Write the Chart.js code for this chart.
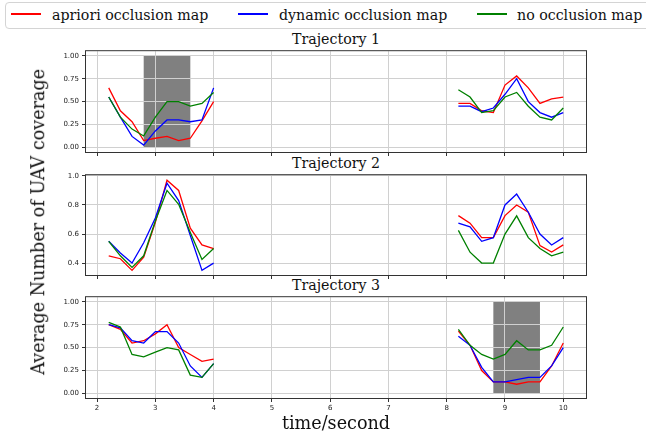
<!DOCTYPE html>
<html><head><meta charset="utf-8">
<script src="https://cdn.jsdelivr.net/npm/chart.js@4.4.0/dist/chart.umd.min.js"></script>
<style>
html,body{margin:0;padding:0;background:#fff;width:646px;height:439px;overflow:hidden;position:relative;}
canvas{position:absolute;left:0;}
.t{position:absolute;font-family:"DejaVu Serif";white-space:nowrap;line-height:1;color:#111;}
.lg{position:absolute;height:2px;}
</style></head><body>
<div style="position:absolute;left:5px;top:2px;width:700px;height:25px;border:1px solid #d4d4d4;border-radius:4px;"></div>
<div class="lg" style="left:11px;top:13px;width:30px;background:#ff0000"></div>
<div class="t" style="left:52px;top:8px;font-size:14.2px;">apriori occlusion map</div>
<div class="lg" style="left:238px;top:13px;width:30px;background:#0000ff"></div>
<div class="t" style="left:279px;top:8px;font-size:14.2px;">dynamic occlusion map</div>
<div class="lg" style="left:477px;top:13px;width:30px;background:#008000"></div>
<div class="t" style="left:517px;top:8px;font-size:14.2px;">no occlusion map</div>

<div class="t" style="left:86px;width:500px;text-align:center;top:32px;font-size:14.2px;">Trajectory 1</div>
<div class="t" style="left:86px;width:500px;text-align:center;top:155.5px;font-size:14.2px;">Trajectory 2</div>
<div class="t" style="left:86px;width:500px;text-align:center;top:278px;font-size:14.2px;">Trajectory 3</div>

<canvas id="c1" width="646" height="120" style="top:44px"></canvas>
<canvas id="c2" width="646" height="119" style="top:168px"></canvas>
<canvas id="c3" width="646" height="128" style="top:290px"></canvas>

<div class="t" style="left:86px;width:500px;text-align:center;top:415px;font-size:17.6px;">time/second</div>
<div class="t" style="left:-161px;top:213px;width:400px;text-align:center;font-size:17.6px;transform:rotate(-90deg);">Average Number of UAV coverage</div>

<script>
const xLeft  = [2.2, 2.4, 2.6, 2.8, 3.0, 3.2, 3.4, 3.6, 3.8, 4.0];
const xRight = [8.2, 8.4, 8.6, 8.8, 9.0, 9.2, 9.4, 9.6, 9.8, 10.0];
const xTicks = [2, 3, 4, 5, 6, 7, 8, 9, 10];

const t1Apriori = [0.65,0.40,0.28,0.075,0.10,0.12,0.075,0.10,0.29,0.50, 0.48,0.48,0.40,0.38,0.68,0.78,0.65,0.48,0.53,0.55];
const t1Dynamic = [0.55,0.33,0.12,0.025,0.18,0.30,0.30,0.28,0.30,0.65, 0.45,0.45,0.39,0.43,0.58,0.75,0.50,0.38,0.33,0.38];
const t1None    = [0.55,0.33,0.20,0.125,0.33,0.50,0.50,0.45,0.48,0.60, 0.63,0.55,0.38,0.40,0.55,0.60,0.45,0.33,0.30,0.43];

const t2Apriori = [0.45,0.43,0.35,0.44,0.68,0.97,0.90,0.64,0.525,0.50, 0.727,0.675,0.575,0.575,0.727,0.80,0.75,0.52,0.476,0.525];
const t2Dynamic = [0.55,0.47,0.40,0.54,0.71,0.95,0.83,0.59,0.35,0.40, 0.675,0.65,0.55,0.575,0.80,0.875,0.75,0.60,0.525,0.575];
const t2None    = [0.55,0.45,0.37,0.45,0.69,0.90,0.805,0.61,0.425,0.50, 0.625,0.475,0.40,0.40,0.60,0.725,0.575,0.50,0.45,0.475];

const t3Apriori = [0.75,0.70,0.55,0.575,0.65,0.75,0.50,0.425,0.35,0.375, 0.68,0.525,0.25,0.125,0.125,0.10,0.125,0.125,0.30,0.55];
const t3Dynamic = [0.75,0.715,0.575,0.55,0.675,0.675,0.55,0.30,0.175,0.325, 0.625,0.525,0.285,0.125,0.125,0.15,0.175,0.175,0.30,0.50];
const t3None    = [0.775,0.725,0.425,0.40,0.45,0.50,0.475,0.20,0.175,0.325, 0.70,0.525,0.425,0.375,0.425,0.575,0.475,0.475,0.525,0.725];

const t1Shade = [2.8, 3.6];
const t3Shade = [8.8, 9.6];
const shadeY = [0, 1];

const yTicks1 = [0, 0.25, 0.5, 0.75, 1.0];
const yTicks2 = [0.4, 0.6, 0.8, 1.0];
const yTicks3 = [0, 0.25, 0.5, 0.75, 1.0];

function pts(vals){
  const xs = xLeft.concat(xRight);
  const out = [];
  xs.forEach((x,i)=>{
    if(i===xLeft.length) out.push({x:(xLeft[xLeft.length-1]+xRight[0])/2, y:null});
    out.push({x:x, y:vals[i]});
  });
  return out;
}

const framePlugin = {
  id:'frame',
  afterDraw(c){
    const a=c.chartArea, ctx=c.ctx;
    ctx.save();
    ctx.strokeStyle='#333';
    ctx.lineWidth=1;
    ctx.strokeRect(a.left-0.5, a.top-0.5, a.right-a.left+1, a.bottom-a.top+1);
    ctx.restore();
  }
};
const shadePlugin = {
  id:'shade',
  beforeDraw(c, args, opts){
    if(!opts.range) return;
    const x=c.scales.x, y=c.scales.y, ctx=c.ctx;
    const x0=x.getPixelForValue(opts.range[0]), x1=x.getPixelForValue(opts.range[1]);
    const y0=y.getPixelForValue(shadeY[1]), y1=y.getPixelForValue(shadeY[0]);
    ctx.save();
    ctx.fillStyle='#808080';
    ctx.fillRect(x0, y0, x1-x0, y1-y0);
    ctx.restore();
  }
};

const tickFont = {family:'DejaVu Sans', size:7};

function make(id, a, d, n, yMin, yMax, yTicks, dec, shade, showX, hx){
  new Chart(document.getElementById(id), {
    type:'line',
    data:{datasets:[
      {label:'apriori occlusion map', data:pts(a), borderColor:'#ff0000', order:3},
      {label:'dynamic occlusion map', data:pts(d), borderColor:'#0000ff', order:2},
      {label:'no occlusion map', data:pts(n), borderColor:'#008000', order:1}
    ]},
    options:{
      responsive:false, animation:false, devicePixelRatio:1,
      layout:{padding:{top:5, right:60, left:0, bottom:0}},
      elements:{line:{borderWidth:1.3, tension:0, fill:false}, point:{radius:0, hoverRadius:0}},
      spanGaps:false,
      plugins:{legend:{display:false}, tooltip:{enabled:false}, title:{display:false}, shade:{range:shade}},
      scales:{
        x:{type:'linear', min:1.81, max:10.39,
          afterBuildTicks(s){ s.ticks = xTicks.map(v=>({value:v})); },
          afterFit(s){ s.height=hx; },
          grid:{color:'#d0d0d0', lineWidth:1, tickColor:'#333', tickLength:4, drawTicks:true},
          border:{display:false},
          ticks:{font:tickFont, color:'#222', padding:2, maxRotation:0, autoSkip:false,
            callback:(v)=> showX ? String(v) : ''}
        },
        y:{type:'linear', min:yMin, max:yMax,
          afterBuildTicks(s){ s.ticks = yTicks.map(v=>({value:v})); },
          afterFit(s){ s.width=86; },
          grid:{color:'#d0d0d0', lineWidth:1, tickColor:'#333', tickLength:4, drawTicks:true},
          border:{display:false},
          ticks:{font:tickFont, color:'#222', padding:3, autoSkip:false,
            callback:(v)=> Number(v).toFixed(dec)}
        }
      }
    },
    plugins:[shadePlugin, framePlugin]
  });
}

make('c1', t1Apriori, t1Dynamic, t1None, -0.05, 1.05, yTicks1, 2, t1Shade, false, 12);
make('c2', t2Apriori, t2Dynamic, t2None, 0.318, 1.005, yTicks2, 1, null, false, 12);
make('c3', t3Apriori, t3Dynamic, t3None, -0.05, 1.05, yTicks3, 2, t3Shade, true, 20);
</script>
</body></html>
